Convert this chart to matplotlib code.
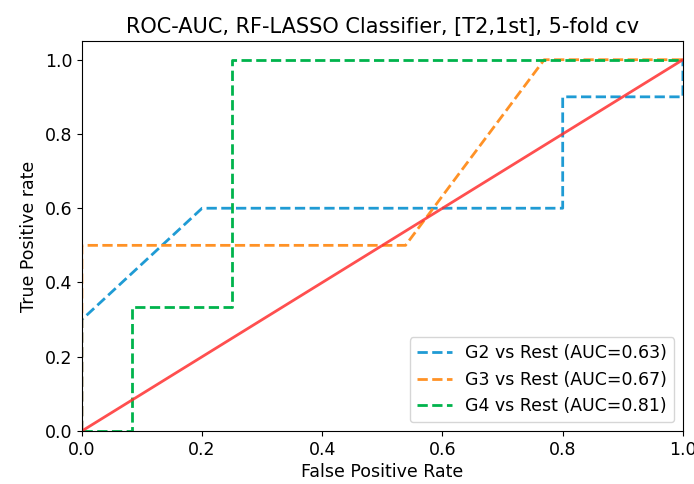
import matplotlib
matplotlib.use("Agg")
import matplotlib.pyplot as plt

title = "ROC-AUC, RF-LASSO Classifier, [T2,1st], 5-fold cv"
labels = ["G2 vs Rest (AUC=0.63)", "G3 vs Rest (AUC=0.67)", "G4 vs Rest (AUC=0.81)"]
colors = ["#1f9bd4", "#ff9226", "#00b34c"]

g2_fpr = [0.0, 0.0, 0.2, 0.8, 0.8, 1.0, 1.0]
g2_tpr = [0.0, 0.3, 0.6, 0.6, 0.9, 0.9, 1.0]
g3_fpr = [0.0, 0.0, 7/13, 10/13, 1.0]
g3_tpr = [0.0, 0.5, 0.5, 1.0, 1.0]
g4_fpr = [0.0, 1/12, 1/12, 0.25, 0.25, 1.0]
g4_tpr = [0.0, 0.0, 1/3, 1/3, 1.0, 1.0]
diag = [0.0, 1.0]

fig = plt.figure(figsize=(6.94, 4.84), dpi=100)
ax = fig.add_axes([0.118, 0.1095, 0.866, 0.8055])
for f, t, c, l in zip([g2_fpr, g3_fpr, g4_fpr], [g2_tpr, g3_tpr, g4_tpr], colors, labels):
    ax.plot(f, t, linestyle="--", color=c, lw=2, label=l)
ax.plot(diag, diag, color="#ff3030", alpha=0.85, lw=2)
ax.set_xlim(0, 1)
ax.set_ylim(0, 1.05)
ax.set_title(title, fontsize=15)
ax.set_xlabel("False Positive Rate", fontsize=12.5, labelpad=3)
ax.set_ylabel("True Positive rate", fontsize=12.5, labelpad=5)
ax.tick_params(labelsize=12.5)
ax.legend(loc="lower right", fontsize=12.5)
fig.savefig("out.png", dpi=100)
